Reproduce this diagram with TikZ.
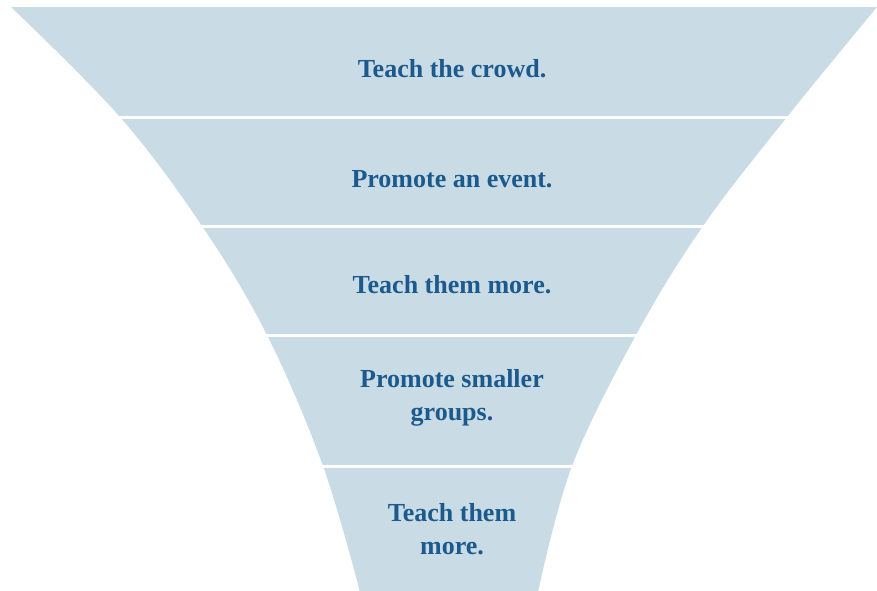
\documentclass[tikz,border=0pt]{standalone}
\usepackage{fontspec}
\setmainfont{Liberation Serif}
\definecolor{funnelfill}{HTML}{C9DBE5}
\definecolor{funneltext}{HTML}{1C5A8E}
\tikzset{
  label/.style={text=funneltext, font=\bfseries\fontsize{26}{33}\selectfont, align=center},
  sep/.style={draw=white, line width=3pt}
}
\begin{document}
\begin{tikzpicture}[x=1pt,y=-1pt]
\useasboundingbox (0,0) rectangle (877,590);
\begin{scope}
\clip (0,0) rectangle (877,590);
\fill[funnelfill] plot[smooth, tension=0.6] coordinates {(11,7) (120,117) (202,226) (267,335) (323,466) (360,592)}
  -- plot[smooth, tension=0.6] coordinates {(538,592) (572,466) (636,335) (703,226) (787,117) (877,7)} -- cycle;
\draw[sep] (0,117) -- (877,117);
\draw[sep] (0,226) -- (877,226);
\draw[sep] (0,335) -- (877,335);
\draw[sep] (0,466) -- (877,466);
\end{scope}
\node[label] (t1) at (452,69) {Teach the crowd.};
\node[label] (t2) at (452,179) {Promote an event.};
\node[label] (t3) at (452,285) {Teach them more.};
\node[label] (t4) at (452,398) {Promote smaller\\groups.};
\node[label] (t5) at (452,529) {Teach them\\more.};
\end{tikzpicture}
\end{document}
